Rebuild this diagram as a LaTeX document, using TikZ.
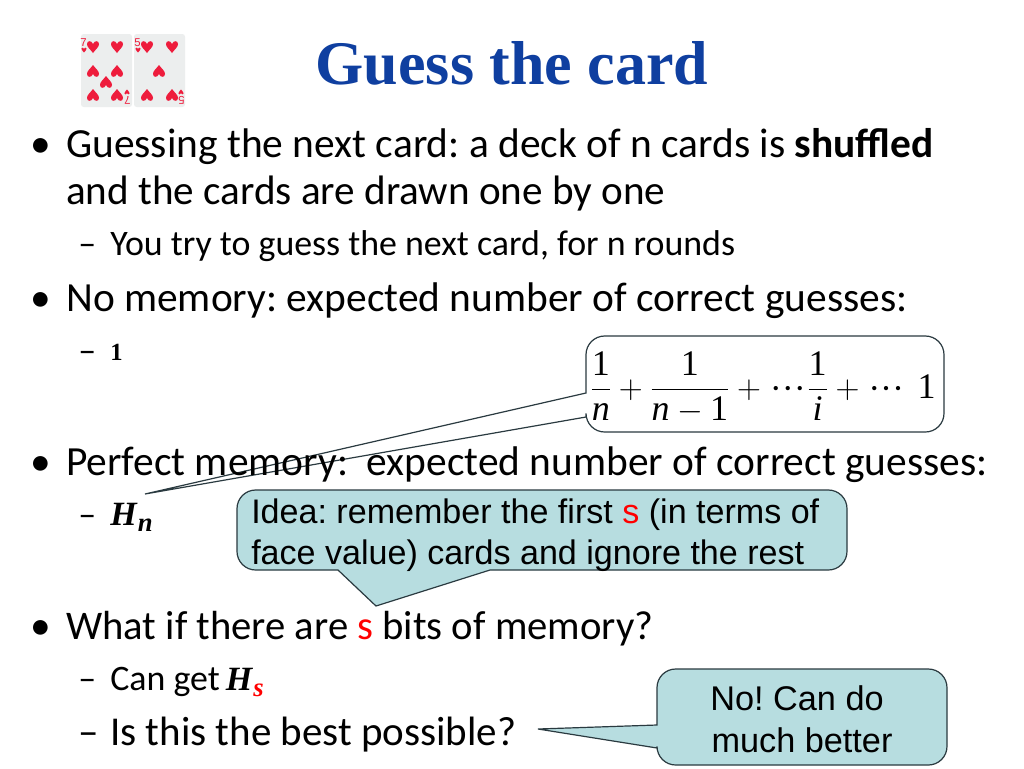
\documentclass[tikz,border=0pt]{standalone}
\usepackage{fontspec}
\setmainfont{Carlito}
\newfontfamily\titlefont{Liberation Serif}
\newfontfamily\calloutfont{Liberation Sans}
\definecolor{titleblue}{HTML}{0F3FA0}
\definecolor{calloutfill}{HTML}{B7DDE0}
\definecolor{cardred}{HTML}{EE1C3C}
\definecolor{cardbg}{HTML}{ECEEEE}
\definecolor{strokedark}{HTML}{2A3A40}
\newcommand{\bigH}[1]{{\titlefont\bfseries\itshape\fontsize{25.5}{28}\selectfont H\kern0.8pt\raisebox{-4.5pt}{\fontsize{20}{22}\selectfont #1}}}
\newcommand{\mnum}{\mbox{\titlefont 1}}
\newcommand{\mvar}[1]{\mbox{\titlefont\itshape #1}}
\newcommand{\tightdots}{\raisebox{-1.5pt}{\titlefont\kern1pt···\kern1pt}}
\tikzset{
  x=0.75pt,y=-0.75pt,
  body/.style={anchor=base west,inner sep=0,font=\fontsize{31.07}{34}\selectfont,text=black},
  sub/.style={anchor=base west,inner sep=0,font=\fontsize{26.9}{30}\selectfont,text=black},
  call/.style={anchor=base west,inner sep=0,font=\calloutfont\fontsize{25.55}{28}\selectfont,text=black},
  callc/.style={anchor=center,inner sep=0,font=\calloutfont\fontsize{25.7}{28}\selectfont,text=black},
  bubble/.style={draw=strokedark,line width=0.9pt,fill=calloutfill},
  heart/.pic={\fill[cardred] (0,6) .. controls (-3,2) and (-6,0) .. (-6,-3) .. controls (-6,-6.5) and (-1.5,-7) .. (0,-3) .. controls (1.5,-7) and (6,-6.5) .. (6,-3) .. controls (6,0) and (3,2) .. (0,6) -- cycle;},
  spade/.pic={\fill[cardred] (0,-6) .. controls (-3,-2) and (-6,0) .. (-6,3) .. controls (-6,6.5) and (-1.5,7) .. (0,3) .. controls (1.5,7) and (6,6.5) .. (6,3) .. controls (6,0) and (3,-2) .. (0,-6) -- cycle;},
  cardnum/.style={inner sep=0,text=cardred,font=\calloutfont\fontsize{8.5}{9}\selectfont},
}
\begin{document}
\frenchspacing
\begin{tikzpicture}
\useasboundingbox (0,0) rectangle (1024,768);
\fill[white] (0,0) rectangle (1024,768);
% cards
\fill[cardbg,rounded corners=2] (81,34) rectangle (132,107);
\fill[cardbg,rounded corners=2] (134,34) rectangle (185,107);
\node[cardnum] (n7) at (83.5,43) {7};
\node[cardnum] (n5) at (137.5,43) {5};
\node[cardnum,rotate=180] (n7b) at (127.5,100) {7};
\node[cardnum,rotate=180] (n5b) at (181.5,100) {5};
\foreach \p in {(93,47),(117,47)} \pic at \p {heart};
\foreach \p in {(93,71),(117,71),(106,82),(93,95),(117,95)} \pic at \p {spade};
\foreach \p in {(147,47),(172,47)} \pic at \p {heart};
\foreach \p in {(159,71),(147,95),(172,95)} \pic at \p {spade};
\pic[scale=0.42] at (84,50) {heart};
\pic[scale=0.42] at (138,50) {heart};
\pic[scale=0.42] at (127,92) {spade};
\pic[scale=0.42] at (181,92) {spade};
% white callout
\draw[draw=strokedark,line width=0.9pt,fill=white]
  [rounded corners=14] (586,393) -- (586,336) -- (944,336) -- (944,432) -- (586,432)
  [sharp corners] -- (586,417) -- (145,494) -- cycle;
% title
\node[anchor=base,inner sep=0,text=titleblue,font=\titlefont\bfseries\fontsize{46.5}{50}\selectfont] (title) at (512,84) {Guess the card};
% body
\node[body] (b1) at (30,157) {•};
\node[body] (t1) at (66,157) {Guessing the next card: a deck of n cards is \textbf{shuffled}};
\node[body,font=\fontsize{30.85}{34}\selectfont] (t1b) at (66,204) {and the cards are drawn one by one};
\node[sub] (d1) at (78,255) {–};
\node[sub] (t2) at (110,255) {You try to guess the next card, for n rounds};
\node[body] (b2) at (30,311) {•};
\node[body] (t3) at (66,311) {No memory: expected number of correct guesses:};
\node[sub] (d2) at (78,362) {–};
\node[anchor=base west,inner sep=0,font=\titlefont\bfseries\fontsize{18.5}{20}\selectfont] (one) at (110,360) {1};
\node[body] (b3) at (30,475) {•};
\node[body] (t4) at (66,475) {Perfect memory:\ \ expected number of correct guesses:};
\node[sub] (d3) at (78,526) {–};
\node[anchor=base west,inner sep=0] (hn) at (110,525) {\bigH{n}};
\node[body] (b4) at (30,639) {•};
\node[body,font=\fontsize{30.5}{34}\selectfont] (t5) at (66,639) {What if there are \textcolor{red}{s} bits of memory?};
\node[sub] (d4) at (78,690) {–};
\node[sub] (t6) at (110,690) {Can get\kern-1.5pt\ \bigH{\textcolor{red}{s}}};
\node[sub,font=\fontsize{30.75}{34}\selectfont] (d5) at (78,745) {–};
\node[sub,font=\fontsize{30.75}{34}\selectfont] (t7) at (110,745) {Is this the best possible?};
% formula
\node[anchor=base west,inner sep=0,font=\titlefont\fontsize{27}{30}\selectfont] (f1) at (590,398)
  {$\displaystyle\frac{\mnum}{\mvar{n}}+\frac{\mnum}{\mvar{n}-\mnum}+\tightdots\frac{\mnum}{\mvar{i}}+\tightdots\kern 9pt\mnum$};
% blue callouts
\draw[bubble]
  [rounded corners=14] (338,570) -- (237,570) -- (237,490) -- (847,490) -- (847,570)
  [sharp corners] -- (490,570) -- (376,606) -- cycle;
\node[call] (c1) at (251,523) {Idea: remember the first \textcolor{red}{s} (in terms of};
\node[call] (c2) at (251,564) {face value) cards and ignore the rest};
\draw[bubble]
  [rounded corners=14] (657,725) -- (657,669) -- (947,669) -- (947,765) -- (657,765)
  [sharp corners] -- (657,748) -- (538,729) -- cycle;
\node[callc] (c3) at (797,698) {No! Can do};
\node[callc] (c4) at (802,740) {much better};
\end{tikzpicture}
\end{document}
